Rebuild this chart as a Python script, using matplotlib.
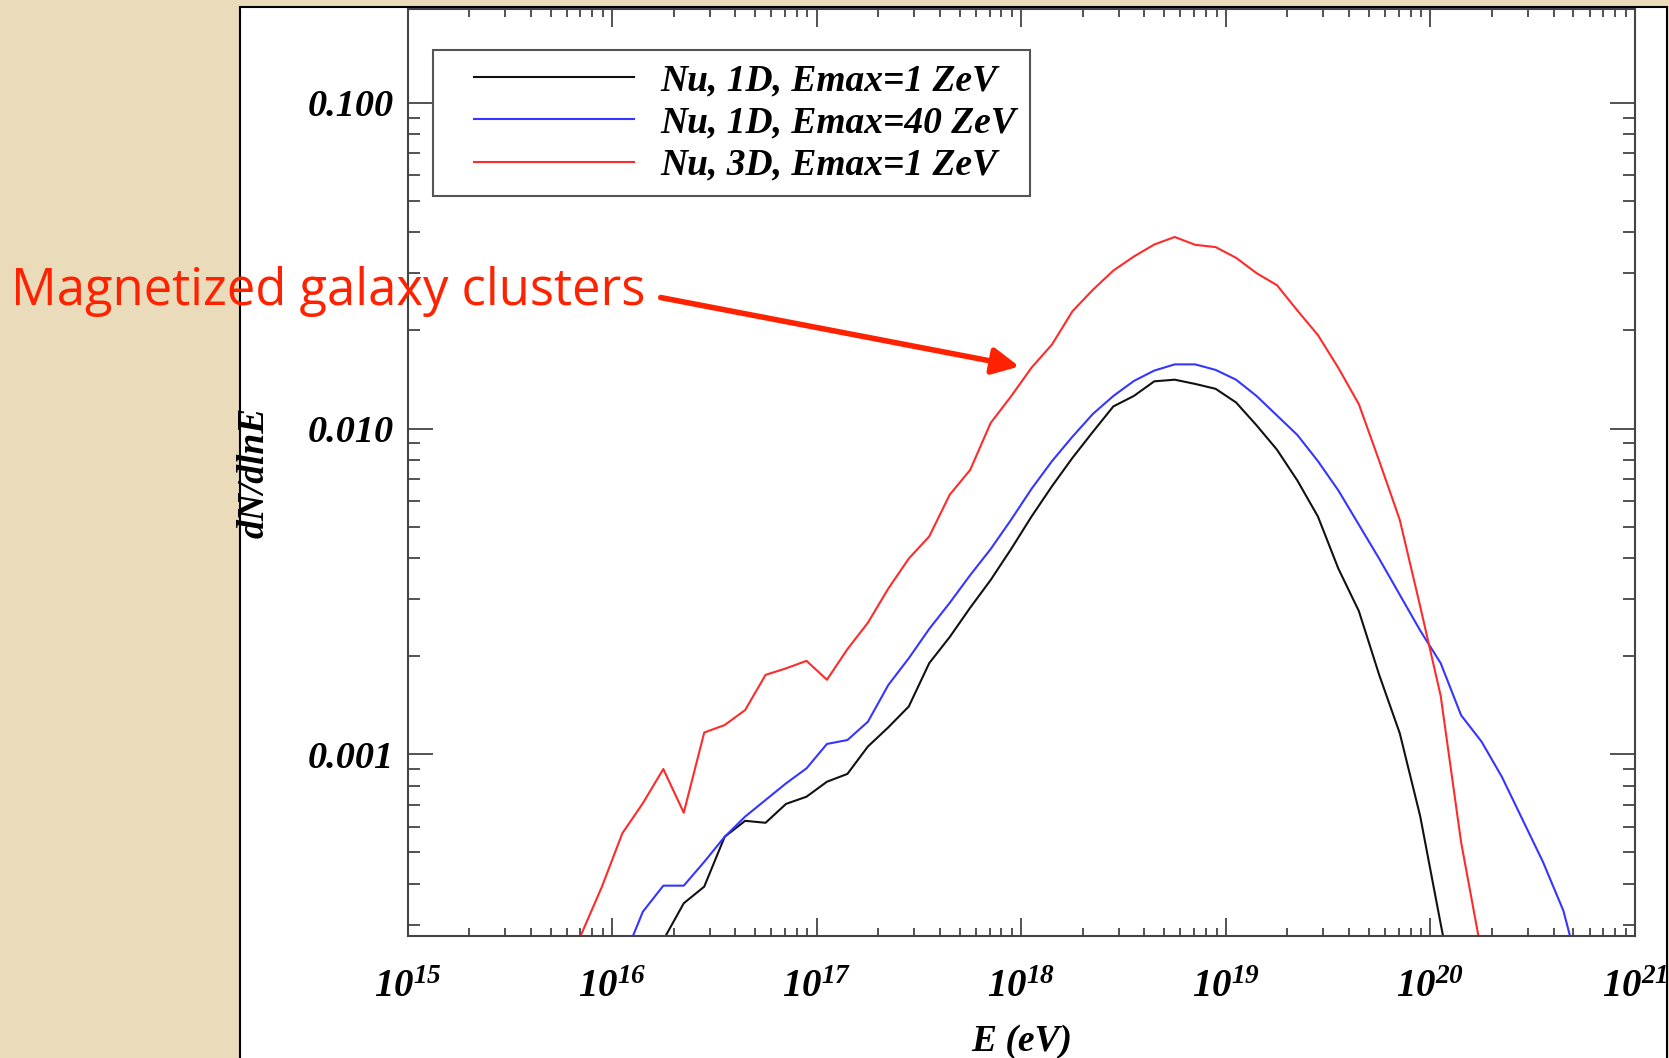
import matplotlib.pyplot as plt
import numpy as np
from matplotlib.patches import Rectangle, FancyArrowPatch
from matplotlib.lines import Line2D
from matplotlib.legend_handler import HandlerLine2D
from matplotlib.ticker import FixedLocator, FixedFormatter, LogLocator, NullFormatter

# spectra: log10(E / eV) and log10(dN/dlnE)
log_e_black = [16.25, 16.35, 16.45, 16.55, 16.65, 16.75, 16.85, 16.95, 17.05, 17.15,
               17.25, 17.35, 17.45, 17.55, 17.65, 17.75, 17.85, 17.95, 18.05, 18.15,
               18.25, 18.35, 18.45, 18.55, 18.65, 18.75, 18.85, 18.95, 19.05, 19.15,
               19.25, 19.35, 19.45, 19.55, 19.65, 19.75, 19.85, 19.95, 20.05, 20.10]
log_n_black = [-3.57, -3.457, -3.406, -3.253, -3.204, -3.210, -3.152, -3.130, -3.084, -3.060,
               -2.976, -2.917, -2.853, -2.720, -2.640, -2.550, -2.465, -2.370, -2.270, -2.177,
               -2.090, -2.010, -1.932, -1.900, -1.855, -1.850, -1.863, -1.878, -1.920, -1.990,
               -2.065, -2.160, -2.270, -2.430, -2.560, -2.757, -2.935, -3.190, -3.520, -3.680]

log_e_blue = [16.10, 16.15, 16.25, 16.35, 16.45, 16.55, 16.65, 16.75, 16.85, 16.95,
              17.05, 17.15, 17.25, 17.35, 17.45, 17.55, 17.65, 17.75, 17.85, 17.95,
              18.05, 18.15, 18.25, 18.35, 18.45, 18.55, 18.65, 18.75, 18.85, 18.95,
              19.05, 19.15, 19.25, 19.35, 19.45, 19.55, 19.65, 19.75, 19.85, 19.95,
              20.05, 20.15, 20.25, 20.35, 20.45, 20.55, 20.65, 20.70]
log_n_blue = [-3.56, -3.483, -3.403, -3.403, -3.330, -3.253, -3.191, -3.140, -3.089, -3.043,
              -2.968, -2.956, -2.900, -2.787, -2.705, -2.615, -2.535, -2.450, -2.370, -2.280,
              -2.185, -2.100, -2.025, -1.955, -1.900, -1.854, -1.822, -1.803, -1.803, -1.820,
              -1.850, -1.900, -1.960, -2.020, -2.100, -2.190, -2.295, -2.400, -2.510, -2.620,
              -2.720, -2.880, -2.961, -3.070, -3.200, -3.330, -3.480, -3.600]

log_e_red = [15.83, 15.95, 16.05, 16.15, 16.25, 16.35, 16.45, 16.55, 16.65, 16.75,
             16.85, 16.95, 17.05, 17.15, 17.25, 17.35, 17.45, 17.55, 17.65, 17.75,
             17.85, 17.95, 18.05, 18.15, 18.25, 18.35, 18.45, 18.55, 18.65, 18.75,
             18.85, 18.95, 19.05, 19.15, 19.25, 19.35, 19.45, 19.55, 19.65, 19.75,
             19.85, 19.95, 20.05, 20.15, 20.25]
log_n_red = [-3.58, -3.406, -3.242, -3.150, -3.045, -3.179, -2.933, -2.910, -2.864, -2.756,
             -2.736, -2.713, -2.771, -2.677, -2.596, -2.491, -2.399, -2.331, -2.203, -2.127,
             -1.983, -1.901, -1.813, -1.742, -1.640, -1.574, -1.515, -1.472, -1.435, -1.412,
             -1.436, -1.443, -1.476, -1.523, -1.560, -1.638, -1.713, -1.814, -1.925, -2.100,
             -2.280, -2.546, -2.820, -3.270, -3.610]

series_labels = ["Nu, 1D, Emax=1 ZeV", "Nu, 1D, Emax=40 ZeV", "Nu, 3D, Emax=1 ZeV"]
x_tick_exponents = [15, 16, 17, 18, 19, 20, 21]
y_tick_values = [0.001, 0.01, 0.1]
y_tick_labels = ["0.001", "0.010", "0.100"]

serif = "Liberation Serif"
plt.rcParams["mathtext.fontset"] = "custom"
plt.rcParams["mathtext.rm"] = "Liberation Serif:bold:italic"
plt.rcParams["mathtext.it"] = "Liberation Serif:bold:italic"
plt.rcParams["mathtext.bf"] = "Liberation Serif:bold:italic"

W, H = 1669, 1058
fig = plt.figure(figsize=(W / 100, H / 100), dpi=100)
fig.patch.set_facecolor("#EADBBA")

# white slide panel behind the plot
panel = Rectangle((240 / W, -0.02), (1667 - 240) / W, 1.02 - 7 / H, transform=fig.transFigure,
                  facecolor="white", edgecolor="black", linewidth=1.5, zorder=0)
fig.add_artist(panel)

ax = fig.add_axes([407.6 / W, 1 - 936 / H, (1635 - 407.6) / W, (936 - 9) / H])
ax.set_facecolor("white")

ax.plot(10 ** np.array(log_e_black), 10 ** np.array(log_n_black), color="#111111", lw=1.5, label=series_labels[0])
ax.plot(10 ** np.array(log_e_blue), 10 ** np.array(log_n_blue), color="#3535ff", lw=1.5, label=series_labels[1])
ax.plot(10 ** np.array(log_e_red), 10 ** np.array(log_n_red), color="#ff2a2a", lw=1.5, label=series_labels[2])

ax.set_xscale("log")
ax.set_yscale("log")
ax.set_xlim(1e15, 1e21)
ax.set_ylim(2.77e-4, 0.194)

ax.xaxis.set_major_locator(FixedLocator([10.0 ** e for e in x_tick_exponents]))
ax.xaxis.set_major_formatter(FixedFormatter([r"$10^{%d}$" % e for e in x_tick_exponents]))
ax.xaxis.set_minor_locator(LogLocator(base=10, subs=np.arange(2, 10), numticks=20))
ax.xaxis.set_minor_formatter(NullFormatter())
ax.yaxis.set_major_locator(FixedLocator(y_tick_values))
ax.yaxis.set_major_formatter(FixedFormatter(y_tick_labels))
ax.yaxis.set_minor_locator(LogLocator(base=10, subs=np.arange(2, 10), numticks=20))
ax.yaxis.set_minor_formatter(NullFormatter())

tick_col = "#444444"
ax.tick_params(which="both", direction="in", top=True, right=True, color=tick_col, width=1.3)
ax.tick_params(axis="x", which="major", length=13, pad=22, labelsize=28)
ax.tick_params(axis="x", which="minor", length=6)
ax.tick_params(axis="y", which="major", length=18, pad=10, labelsize=27.5)
ax.tick_params(axis="y", which="minor", length=8.5)
for lab in ax.get_yticklabels():
    lab.set_fontfamily(serif)
    lab.set_fontweight("bold")
    lab.set_fontstyle("italic")
for sp in ax.spines.values():
    sp.set_color(tick_col)
    sp.set_linewidth(1.5)

ax.set_xlabel("E (eV)", fontfamily=serif, fontweight="bold", fontstyle="italic", fontsize=27, labelpad=14)
ax.set_ylabel("dN/dlnE", fontfamily=serif, fontweight="bold", fontstyle="italic", fontsize=27)
ax.yaxis.set_label_coords(-0.111, 0.5)

leg = ax.legend(loc="upper left", bbox_to_anchor=(0.0207, 0.9558), borderaxespad=0,
                prop={"family": serif, "weight": "bold", "style": "italic", "size": 27},
                handlelength=5.0, handletextpad=0.7, labelspacing=0.19, borderpad=0.36,
                handler_map={Line2D: HandlerLine2D(xpad=0.72)},
                fancybox=False, framealpha=1, edgecolor="#555555")
leg.get_frame().set_linewidth(1.5)

# slide annotation
red = "#ff2200"
fig.text(11 / W, 1 - 291 / H, "Magnetized galaxy clusters", color=red, fontfamily="Open Sans",
         fontsize=36.5, ha="left", va="center", zorder=10)
fig.add_artist(FancyArrowPatch(
    (658 / W, 1 - 297 / H), (1022 / W, 1 - 367 / H), transform=fig.transFigure,
    arrowstyle="-|>", mutation_scale=40, lw=4, color=red, zorder=10))

fig.savefig("out.png", dpi=100, facecolor=fig.get_facecolor())
